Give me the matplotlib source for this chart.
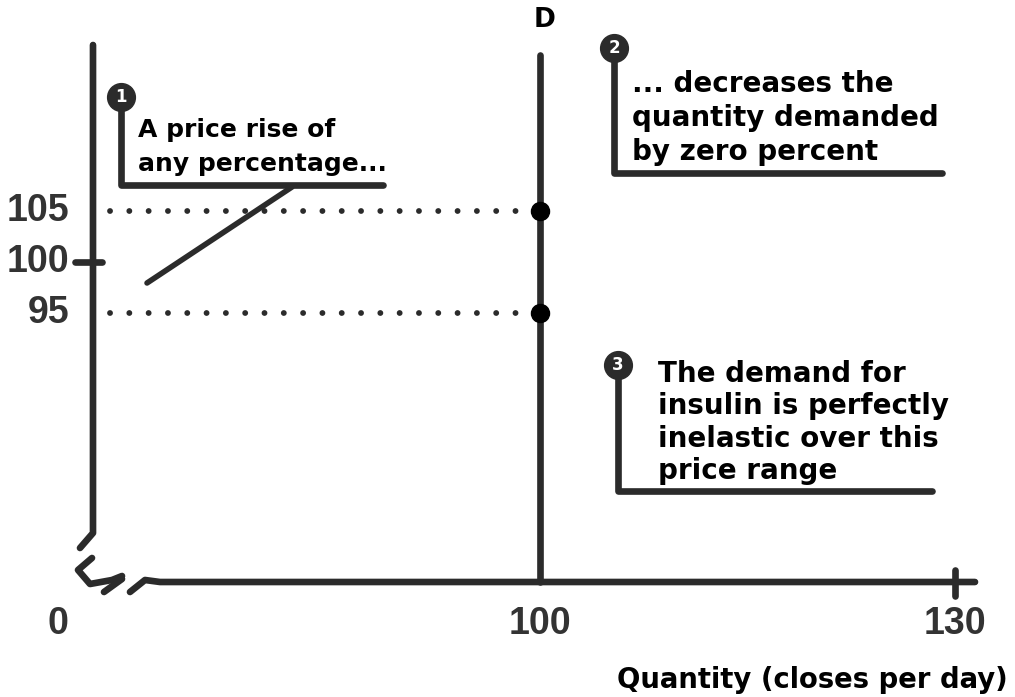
import numpy as np
import matplotlib
matplotlib.use("Agg")
import matplotlib.pyplot as plt

# data
price_ticks = [95, 100, 105]
quantity_ticks = [100, 130]
demand_quantity = 100
points_price = [105, 95]

callout_texts = [
    "A price rise of\nany percentage...",
    "... decreases the\nquantity demanded\nby zero percent",
    "The demand for\ninsulin is perfectly\ninelastic over this\nprice range",
]
callout_numbers = ["1", "2", "3"]

W, H = 1015, 697
ink = "#2b2b2b"

# pixel <-> data mapping (100 -> 540px, 130 -> 955px ; 105 -> 211px, 95 -> 313px)
qx = 415 / 30.0
py = 102 / 10.0
x0 = 100 - 540 / qx
y_top = 105 + 211 / py


def px(x, y):
    return x0 + x / qx, y_top - y / py


fig = plt.figure(figsize=(W / 100, H / 100), dpi=100)
ax = fig.add_axes([0, 0, 1, 1])
ax.set_xlim(x0, x0 + W / qx)
ax.set_ylim(y_top - H / py, y_top)
ax.axis("off")

lw = 4.8
_, axis_y = px(0, 582)


def line(xs, ys, **kw):
    pts = [px(x, y) for x, y in zip(xs, ys)]
    ax.plot([p[0] for p in pts], [p[1] for p in pts], color=kw.pop("color", ink),
            lw=kw.pop("lw", lw), solid_capstyle="round", solid_joinstyle="round", **kw)


# vertical (price) axis with break
line([93, 93, 80], [45, 533, 548])
line([92, 78, 90, 112, 122], [558, 570, 584, 580, 576])
line([104, 122], [592, 579])
# horizontal (quantity) axis
line([130, 145, 160, 975], [592, 580, 582, 582])

# ticks
ax.plot([px(75, 0)[0], px(102, 0)[0]], [100, 100], color=ink, lw=lw, solid_capstyle="round")
for q in quantity_ticks[1:]:
    ax.plot([q, q], [px(0, 570)[1], px(0, 596)[1]], color=ink, lw=lw, solid_capstyle="round")

tick_font = dict(family=["Liberation Sans", "DejaVu Sans"], fontsize=27,
                 fontweight="bold", color="#333333")
for p in price_ticks:
    ax.text(px(69, 0)[0], p, str(p), ha="right", va="center", **tick_font)
ax.text(*px(58, 624), "0", ha="center", va="center", **tick_font)
for q in quantity_ticks:
    ax.text(q, px(0, 624)[1], str(q), ha="center", va="center", **tick_font)

# demand curve D (vertical)
ax.plot([demand_quantity, demand_quantity], [px(0, 55)[1], axis_y], color=ink, lw=lw,
        solid_capstyle="round")
ax.text(*px(545, 20), "D", ha="center", va="center", fontsize=19, fontweight="bold",
        color="black")

# dotted guide lines and points
for p in points_price:
    ax.plot([px(110, 0)[0], demand_quantity], [p, p], color=ink, lw=4.2,
            linestyle=(0, (0.01, 3.3)), dash_capstyle="round")
ax.plot([demand_quantity] * len(points_price), points_price, "o", color="black",
        markersize=13)

# callouts: circle, stem, underline, text
callout_layout = [
    # circle x, circle y, bottom y, right x, text x, text top y, font size, line spacing
    (121, 97, 185, 383, 138, 118, 18, 1.5),
    (614, 48, 173, 942, 632, 70, 20, 1.28),
    (618, 365, 491, 932, 658, 360, 20, 1.2),
]
for (cx, cy, by, rx, tx, ty, fs, ls), num, txt in zip(callout_layout, callout_numbers,
                                                       callout_texts):
    line([cx, cx, rx], [cy, by, by])
    ax.plot(*px(cx, cy), "o", color=ink, markersize=20)
    ax.text(*px(cx, cy), num, ha="center", va="center", color="white", fontsize=12,
            fontweight="bold")
    ax.text(*px(tx, ty), txt, ha="left", va="top", fontsize=fs, fontweight="bold",
            color="black", linespacing=ls)

# pointer from callout 1
line([147, 292], [283, 187], lw=4)

ax.text(*px(1008, 680), "Quantity (closes per day)", ha="right", va="center",
        fontsize=19.8, fontweight="bold", color="black")

fig.savefig("out.png", dpi=100, facecolor="white")
